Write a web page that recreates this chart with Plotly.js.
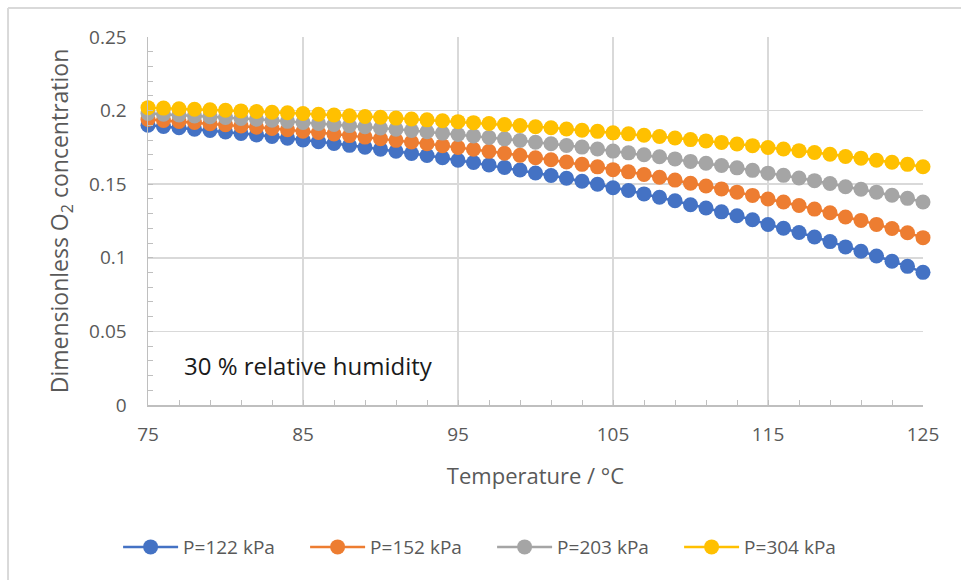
<!DOCTYPE html>
<html>
<head>
<meta charset="utf-8">
<script src="https://cdn.plot.ly/plotly-3.0.1.min.js"></script>
<style>
html,body{margin:0;padding:0;background:#fff;}
#chart{width:961px;height:580px;}
</style>
</head>
<body>
<div id="chart"></div>
<script>
const temperature = [75,76,77,78,79,80,81,82,83,84,85,86,87,88,89,90,91,92,93,94,95,96,97,98,99,100,101,102,103,104,105,106,107,108,109,110,111,112,113,114,115,116,117,118,119,120,121,122,123,124,125];

const p122 = [0.1901,0.1892,0.1884,0.1874,0.1865,0.1855,0.1845,0.1835,0.1824,0.1813,0.1801,0.1789,0.1777,0.1764,0.1751,0.1738,0.1724,0.1709,0.1695,0.1680,0.1663,0.1647,0.1631,0.1614,0.1596,0.1576,0.1559,0.1540,0.1520,0.1500,0.1476,0.1457,0.1434,0.1411,0.1388,0.1360,0.1338,0.1312,0.1286,0.1258,0.1226,0.1201,0.1172,0.1141,0.1110,0.1074,0.1045,0.1012,0.0977,0.0942,0.0901];

const p152 = [0.1940,0.1933,0.1926,0.1919,0.1911,0.1904,0.1896,0.1887,0.1878,0.1870,0.1860,0.1851,0.1841,0.1830,0.1820,0.1809,0.1798,0.1787,0.1775,0.1762,0.1750,0.1737,0.1723,0.1710,0.1696,0.1680,0.1666,0.1651,0.1635,0.1618,0.1599,0.1584,0.1566,0.1547,0.1528,0.1506,0.1488,0.1468,0.1446,0.1424,0.1399,0.1379,0.1355,0.1331,0.1306,0.1277,0.1254,0.1227,0.1199,0.1170,0.1137];

const p203 = [0.1980,0.1975,0.1970,0.1964,0.1959,0.1953,0.1947,0.1941,0.1934,0.1927,0.1920,0.1913,0.1906,0.1898,0.1890,0.1882,0.1874,0.1865,0.1856,0.1847,0.1838,0.1828,0.1818,0.1808,0.1797,0.1785,0.1775,0.1763,0.1752,0.1739,0.1725,0.1713,0.1700,0.1686,0.1672,0.1655,0.1642,0.1627,0.1611,0.1594,0.1575,0.1560,0.1542,0.1524,0.1505,0.1483,0.1466,0.1446,0.1425,0.1404,0.1379];

const p304 = [0.2020,0.2017,0.2013,0.2009,0.2006,0.2002,0.1998,0.1994,0.1989,0.1985,0.1980,0.1975,0.1970,0.1965,0.1960,0.1955,0.1949,0.1943,0.1937,0.1931,0.1925,0.1918,0.1912,0.1905,0.1898,0.1890,0.1883,0.1875,0.1867,0.1859,0.1849,0.1842,0.1833,0.1824,0.1814,0.1803,0.1794,0.1784,0.1773,0.1762,0.1749,0.1739,0.1728,0.1715,0.1703,0.1688,0.1677,0.1663,0.1649,0.1635,0.1619];

const seriesNames = ["P=122 kPa","P=152 kPa","P=203 kPa","P=304 kPa"];
const seriesValues = [p122, p152, p203, p304];
const seriesColors = ["#4472C4","#ED7D31","#A5A5A5","#FFC000"];

const xTickVals = [75,85,95,105,115,125];
const yTickVals = [0,0.05,0.1,0.15,0.2,0.25];
const yTickText = ["0","0.05","0.1","0.15","0.2","0.25"];

const FONT = "'Open Sans', 'Noto Sans', sans-serif";

const traces = seriesNames.map((name, i) => ({
  type: 'scatter',
  mode: 'lines+markers',
  name: name,
  x: temperature,
  y: seriesValues[i],
  line: {color: seriesColors[i], width: 2.5},
  marker: {color: seriesColors[i], size: 15},
  cliponaxis: false
}));

const layout = {
  width: 961,
  height: 580,
  paper_bgcolor: '#ffffff',
  plot_bgcolor: '#ffffff',
  margin: {l: 148, r: 38, t: 37, b: 175},
  font: {family: FONT, color: '#595959', size: 19},
  showlegend: true,
  legend: {
    orientation: 'h',
    x: 0.444, xanchor: 'center',
    y: -0.386, yanchor: 'middle',
    font: {family: FONT, size: 19, color: '#595959'},
    itemwidth: 55,
    entrywidth: 117,
    entrywidthmode: 'pixels',
    traceorder: 'normal'
  },
  xaxis: {
    range: [75, 125],
    tickmode: 'array',
    tickvals: xTickVals,
    ticks: 'inside',
    ticklen: 5,
    tickcolor: '#bfbfbf',
    showgrid: true,
    gridcolor: '#d9d9d9',
    gridwidth: 1.5,
    showline: true,
    linecolor: '#bfbfbf',
    linewidth: 1.5,
    zeroline: false,
    tickfont: {family: FONT, size: 19, color: '#595959'},
    ticklabelstandoff: 12,
    minor: {dtick: 2, tick0: 75, ticks: 'inside', ticklen: 5, tickcolor: '#bfbfbf', showgrid: false},
    title: {text: 'Temperature / °C', font: {family: FONT, size: 22, color: '#595959'}, standoff: 22}
  },
  yaxis: {
    range: [0, 0.25],
    tickmode: 'array',
    tickvals: yTickVals,
    ticktext: yTickText,
    ticks: 'inside',
    ticklen: 5,
    tickcolor: '#bfbfbf',
    showgrid: true,
    gridcolor: '#d9d9d9',
    gridwidth: 1.5,
    showline: true,
    linecolor: '#bfbfbf',
    linewidth: 1.5,
    zeroline: false,
    tickfont: {family: FONT, size: 19, color: '#595959'},
    ticklabelstandoff: 16,
    minor: {dtick: 0.01, tick0: 0, ticks: 'inside', ticklen: 5, tickcolor: '#bfbfbf', showgrid: false},
    title: {text: 'Dimensionless O<sub>2</sub> concentration', font: {family: FONT, size: 23, color: '#595959'}, standoff: 14}
  },
  annotations: [{
    text: '30 % relative humidity',
    xref: 'x', yref: 'y',
    x: 77.2, y: 0.027,
    xanchor: 'left', yanchor: 'middle',
    showarrow: false,
    font: {family: FONT, size: 24, color: '#1a1a1a'}
  }],
  shapes: [
    {type: 'line', xref: 'paper', yref: 'paper', x0: -0.1806, x1: 1.06, y0: 1.0788, y1: 1.0788, line: {color: '#d9d9d9', width: 2}},
    {type: 'line', xref: 'paper', yref: 'paper', x0: -0.1806, x1: -0.1806, y0: 1.0788, y1: -0.5, line: {color: '#d9d9d9', width: 2}}
  ]
};

Plotly.newPlot('chart', traces, layout, {displayModeBar: false, staticPlot: true});
</script>
</body>
</html>
